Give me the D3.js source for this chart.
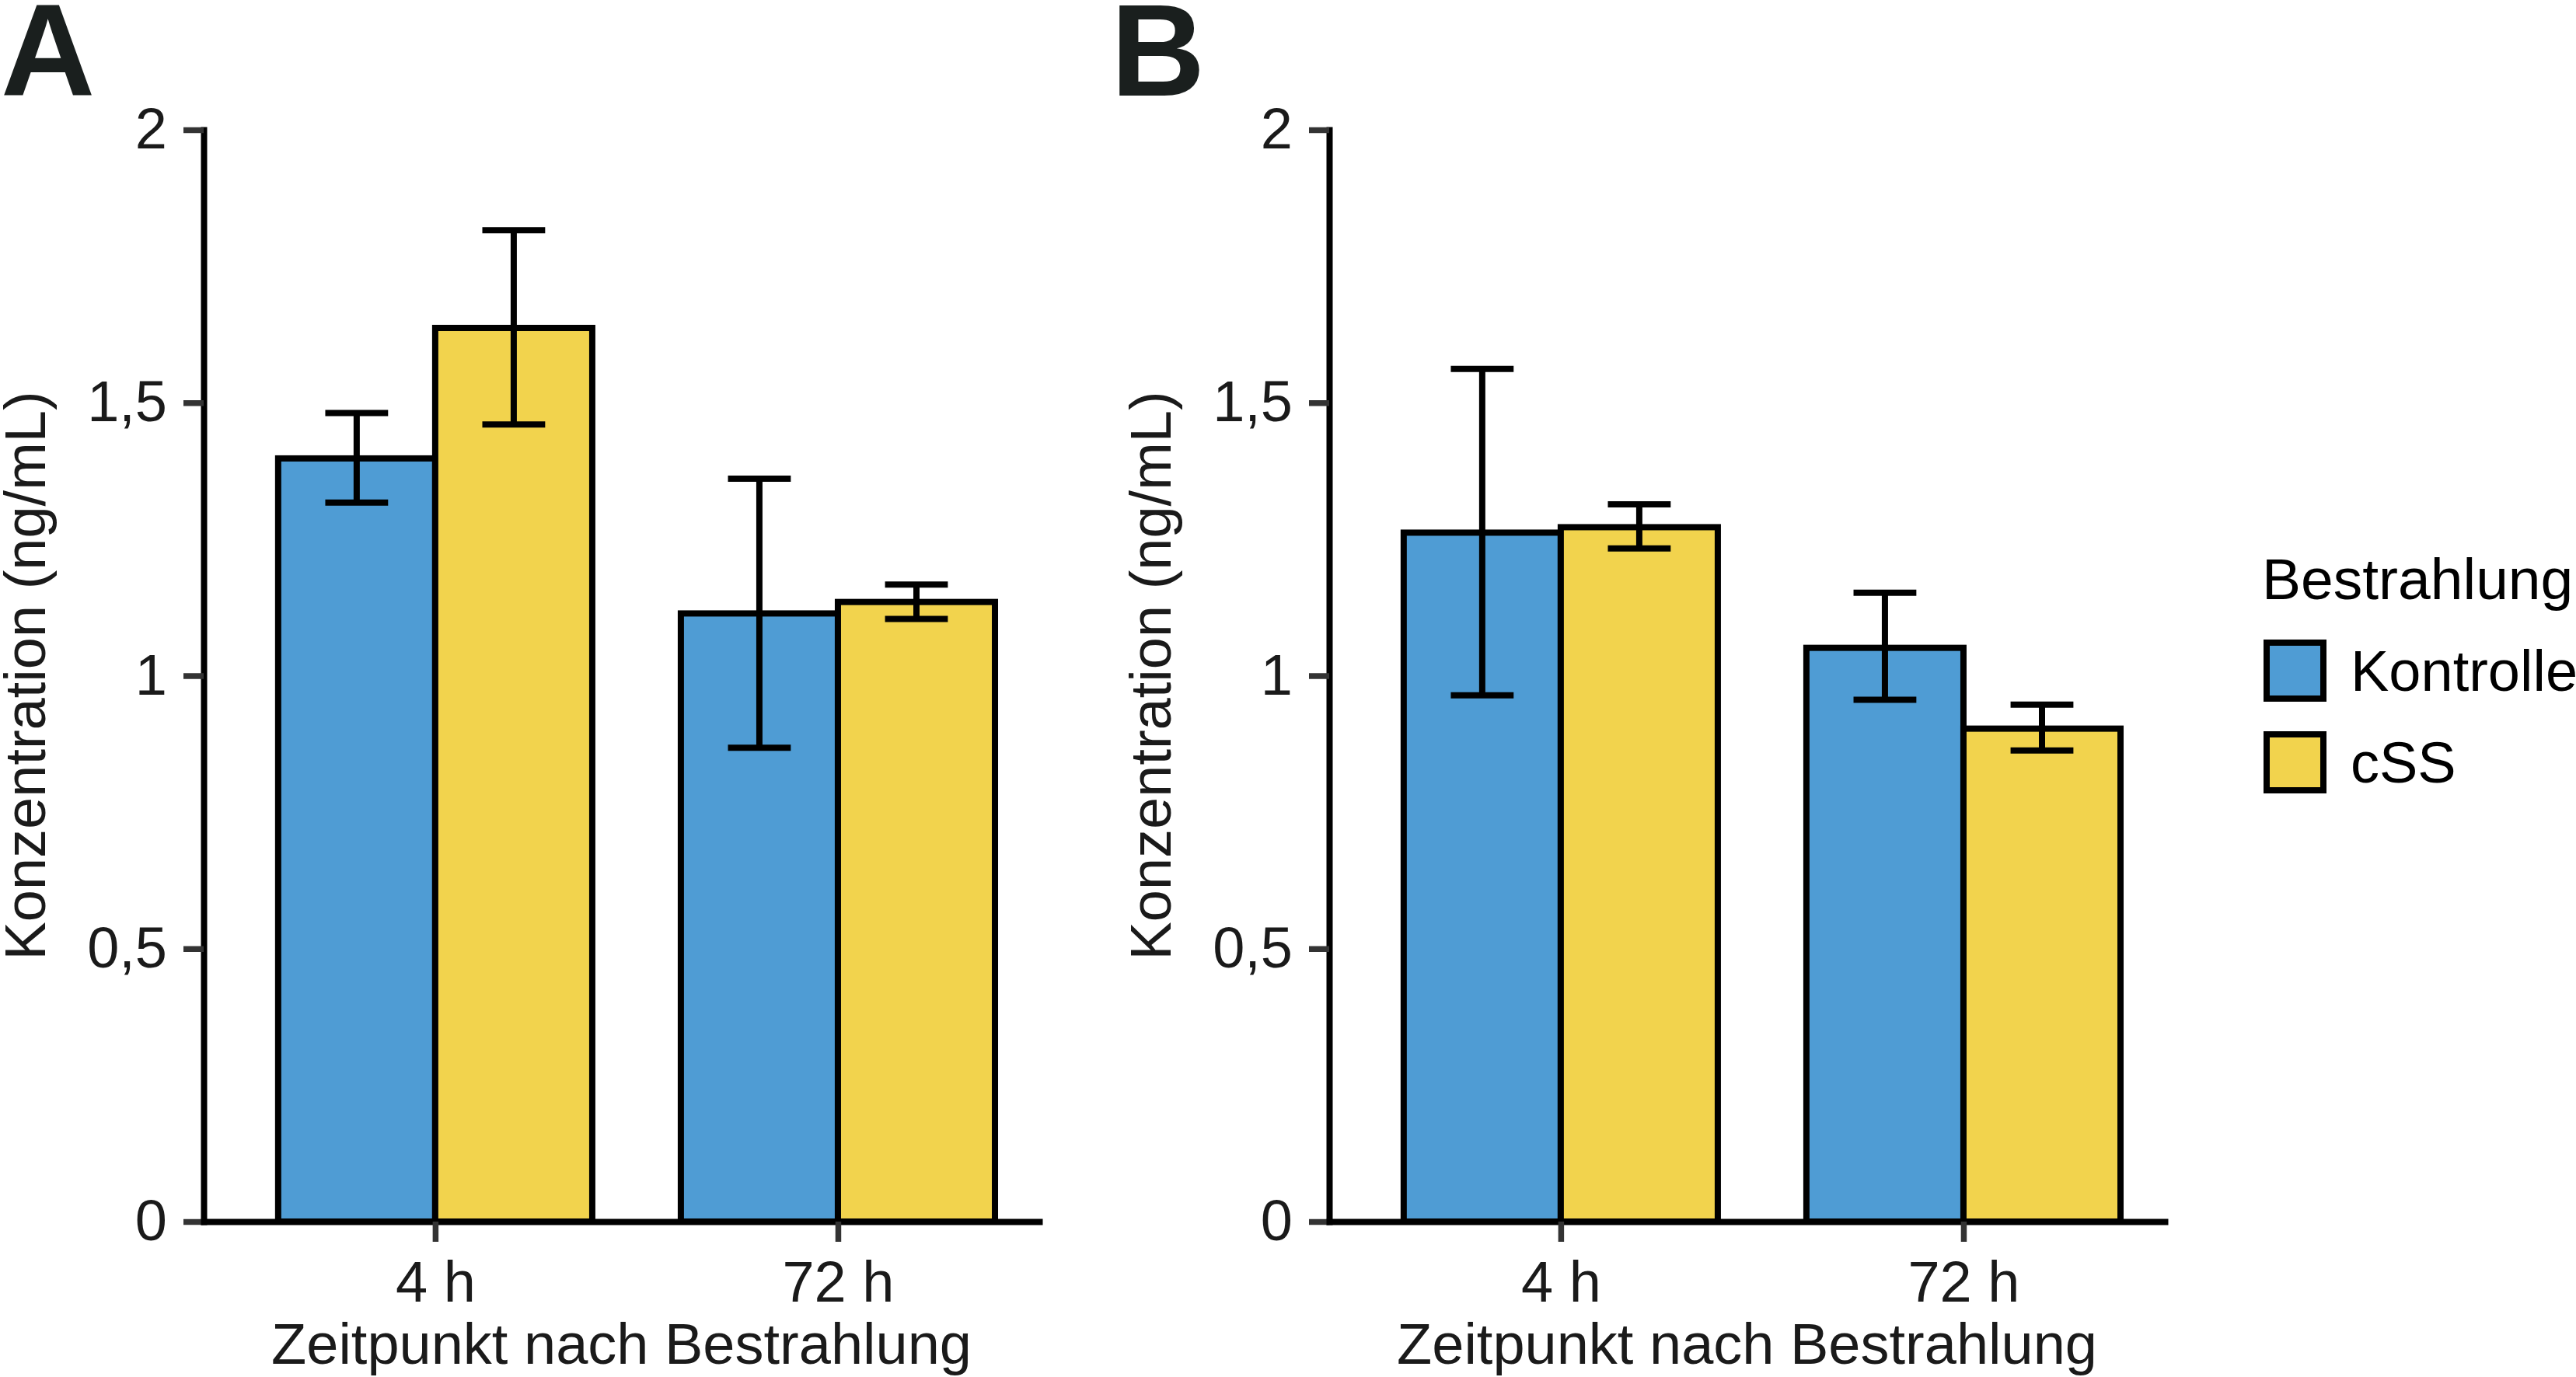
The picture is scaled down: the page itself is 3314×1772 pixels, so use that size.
<!DOCTYPE html>
<html>
<head>
<meta charset="utf-8">
<script src="https://cdn.jsdelivr.net/npm/d3@7"></script>
<style>
  body { margin: 0; background: #fff; }
  text { font-family: "Liberation Sans", Arial, Helvetica, sans-serif; }
</style>
</head>
<body>
<svg id="chart" width="3314" height="1772"></svg>
<script>
// data
var timepoints = ["4 h", "72 h"]
var groups = ["Kontrolle", "cSS"]
var colours = ["#4f9cd4", "#f2d34d"]
var yTicks = [0, 0.5, 1, 1.5, 2]

// panel A
var meanA = { Kontrolle: [1.398, 1.114], cSS: [1.637, 1.135] }
var lowA = { Kontrolle: [1.317, 0.868], cSS: [1.460, 1.104] }
var highA = { Kontrolle: [1.481, 1.361], cSS: [1.816, 1.167] }

// panel B
var meanB = { Kontrolle: [1.262, 1.051], cSS: [1.272, 0.903] }
var lowB = { Kontrolle: [0.964, 0.956], cSS: [1.233, 0.863] }
var highB = { Kontrolle: [1.562, 1.152], cSS: [1.314, 0.947] }

var svg = d3.select("#chart")
var colour = d3.scaleOrdinal().domain(groups).range(colours)

var top0 = 167, bottom0 = 1572, plotW = 1075
var barW = 0.39, capW = 0.078

function panel(left, letter, letterX, mean, low, high) {
  var y = d3.scaleLinear().domain([0, 2]).range([bottom0, top0])
  var x = d3.scaleLinear().domain([0.425, 2.5]).range([left, left + plotW])

  var rows = []
  timepoints.forEach(function(t, i) {
    groups.forEach(function(g, j) {
      rows.push({ t: i + 1, g: g, j: j, v: mean[g][i], lo: low[g][i], hi: high[g][i] })
    })
  })

  var g = svg.append("g")

  g.selectAll("rect.bar")
    .data(rows)
    .enter().append("rect")
    .attr("class", "bar")
    .attr("x", function(d) { return x(d.t - barW + d.j * barW) })
    .attr("width", function(d) { return x(d.t + barW) - x(d.t) })
    .attr("y", function(d) { return y(d.v) })
    .attr("height", function(d) { return y(0) - y(d.v) })
    .attr("fill", function(d) { return colour(d.g) })
    .attr("stroke", "#000")
    .attr("stroke-width", 8)

  var eb = g.selectAll("g.err")
    .data(rows)
    .enter().append("g")
    .attr("class", "err")
    .attr("stroke", "#000")
    .attr("stroke-width", 8)
  function cx(d) { return d.t + (d.j - 0.5) * barW }
  eb.append("line")
    .attr("x1", function(d) { return x(cx(d)) })
    .attr("x2", function(d) { return x(cx(d)) })
    .attr("y1", function(d) { return y(d.lo) })
    .attr("y2", function(d) { return y(d.hi) })
  eb.append("line")
    .attr("x1", function(d) { return x(cx(d) - capW) })
    .attr("x2", function(d) { return x(cx(d) + capW) })
    .attr("y1", function(d) { return y(d.hi) })
    .attr("y2", function(d) { return y(d.hi) })
  eb.append("line")
    .attr("x1", function(d) { return x(cx(d) - capW) })
    .attr("x2", function(d) { return x(cx(d) + capW) })
    .attr("y1", function(d) { return y(d.lo) })
    .attr("y2", function(d) { return y(d.lo) })

  var yAxis = g.append("g")
    .attr("transform", "translate(" + left + ",0)")
    .call(d3.axisLeft(y).tickValues(yTicks).tickSize(26).tickSizeOuter(0).tickPadding(21)
      .tickFormat(function(d) { return String(d).replace(".", ",") }))
  var xAxis = g.append("g")
    .attr("transform", "translate(0," + bottom0 + ")")
    .call(d3.axisBottom(x).tickValues([1, 2]).tickSize(26).tickSizeOuter(0).tickPadding(24)
      .tickFormat(function(d) { return timepoints[d - 1] }))

  ;[yAxis, xAxis].forEach(function(a) {
    a.select(".domain").attr("stroke", "#000").attr("stroke-width", 8).attr("stroke-linecap", "square")
    a.selectAll(".tick line").attr("stroke", "#333").attr("stroke-width", 7.5)
    a.selectAll(".tick text").attr("fill", "#1a1a1a").style("font-size", "74px")
      .style("font-family", "'Liberation Sans', Arial, sans-serif")
  })
  xAxis.raise()

  g.append("text")
    .attr("x", left + plotW / 2)
    .attr("y", 1755)
    .attr("text-anchor", "middle")
    .attr("fill", "#1a1a1a")
    .style("font-size", "74px")
    .text("Zeitpunkt nach Bestrahlung")

  g.append("text")
    .attr("transform", "translate(" + (left - 204) + "," + ((top0 + bottom0) / 2) + ") rotate(-90)")
    .attr("text-anchor", "middle")
    .attr("fill", "#1a1a1a")
    .style("font-size", "74px")
    .text("Konzentration (ng/mL)")

  g.append("text")
    .attr("x", letterX)
    .attr("y", 123)
    .attr("fill", "#1a1f1e")
    .style("font-size", "168px")
    .style("font-weight", "bold")
    .text(letter)
}

panel(262, "A", 1, meanA, lowA, highA)
panel(1710, "B", 1429, meanB, lowB, highB)

// legend
var legend = svg.append("g")
legend.append("text")
  .attr("x", 2910).attr("y", 771)
  .style("font-size", "75px")
  .text("Bestrahlung")
var item = legend.selectAll("g.item")
  .data(groups)
  .enter().append("g")
  .attr("class", "item")
  .attr("transform", function(d, i) { return "translate(2916," + (827 + i * 118) + ")" })
item.append("rect")
  .attr("width", 73).attr("height", 72)
  .attr("fill", function(d) { return colour(d) })
  .attr("stroke", "#000").attr("stroke-width", 8)
item.append("text")
  .attr("x", 108).attr("y", 62)
  .style("font-size", "74px")
  .text(function(d) { return d })
</script>
</body>
</html>
